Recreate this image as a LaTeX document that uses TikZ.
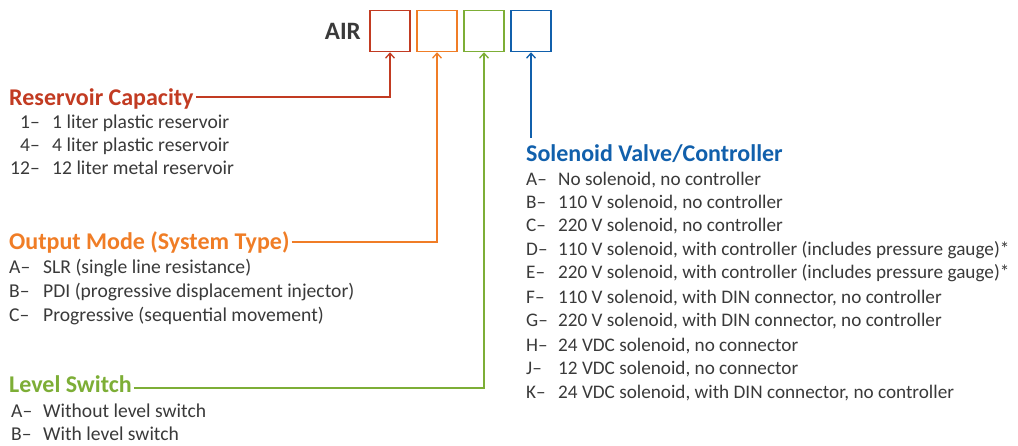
\documentclass[tikz,border=0pt]{standalone}
\usepackage{fontspec}
\setmainfont{Carlito}
\usetikzlibrary{arrows.meta}
\definecolor{cred}{HTML}{C23B22}
\definecolor{corange}{HTML}{F07D26}
\definecolor{cgreen}{HTML}{7DAE36}
\definecolor{cblue}{HTML}{1160AC}
\definecolor{ctext}{HTML}{3A3A3A}
\begin{document}
\begin{tikzpicture}[x=1pt,y=1pt,
  codebox/.style={draw,line width=1.5pt,minimum width=40pt,minimum height=41pt,inner sep=0pt},
  heading/.style={anchor=base west,inner sep=0pt,font=\fontsize{24}{24}\selectfont\bfseries},
  itemlbl/.style={anchor=base west,inner sep=0pt,text=ctext,font=\fontsize{19.6}{20}\selectfont},
  itemlblr/.style={anchor=base east,inner sep=0pt,text=ctext,font=\fontsize{19.6}{20}\selectfont},
  itemtxt/.style={anchor=base west,inner sep=0pt,text=ctext,font=\fontsize{19.6}{20}\selectfont},
  soltxt/.style={anchor=base west,inner sep=0pt,text=ctext,font=\fontsize{19.2}{20}\selectfont},
  conn/.style={line width=1.3pt,-{Straight Barb[length=5pt,width=9pt,line width=1.3pt]}}
]
\useasboundingbox (0,0) rectangle (1018,445);
\fill[white] (0,0) rectangle (1018,445);
% code line
\node[anchor=base east,inner sep=0pt,text=ctext,font=\fontsize{25}{25}\selectfont\bfseries] (air) at (361,405) {AIR};
\node[codebox,draw=cred] (b1) at (390,414) {};
\node[codebox,draw=corange] (b2) at (437,414) {};
\node[codebox,draw=cgreen] (b3) at (484,414) {};
\node[codebox,draw=cblue] (b4) at (531,414) {};
% Reservoir
\node[heading,text=cred] (h1) at (9,339) {Reservoir Capacity};
\node[itemlblr] (r1l) at (40,316) {1–};
\node[itemtxt] (r1t) at (52,316) {1 liter plastic reservoir};
\node[itemlblr] (r2l) at (40,293) {4–};
\node[itemtxt] (r2t) at (52,293) {4 liter plastic reservoir};
\node[itemlblr] (r3l) at (40,270) {12–};
\node[itemtxt] (r3t) at (52,270) {12 liter metal reservoir};
% Output mode
\node[heading,text=corange] (h2) at (9,195) {Output Mode (System Type)};
\node[itemlbl] (o1l) at (9,171) {A–};
\node[itemtxt] (o1t) at (43,171) {SLR (single line resistance)};
\node[itemlbl] (o2l) at (9,147) {B–};
\node[itemtxt] (o2t) at (43,147) {PDI (progressive displacement injector)};
\node[itemlbl] (o3l) at (9,123) {C–};
\node[itemtxt] (o3t) at (43,123) {Progressive (sequential movement)};
% Level switch
\node[heading,text=cgreen] (h3) at (9,53) {Level Switch};
\node[itemlbl] (l1l) at (11,28) {A–};
\node[itemtxt] (l1t) at (43,28) {Without level switch};
\node[itemlbl] (l2l) at (11,5) {B–};
\node[itemtxt] (l2t) at (43,5) {With level switch};
% Solenoid
\node[heading,text=cblue] (h4) at (526,283) {Solenoid Valve/Controller};
\foreach \n/\l/\t/\y in {
  s1/A/{No solenoid, no controller}/259,
  s2/B/{110 V solenoid, no controller}/236,
  s3/C/{220 V solenoid, no controller}/213,
  s4/D/{110 V solenoid, with controller (includes pressure gauge)*}/189,
  s5/E/{220 V solenoid, with controller (includes pressure gauge)*}/166,
  s6/F/{110 V solenoid, with DIN connector, no controller}/141,
  s7/G/{220 V solenoid, with DIN connector, no controller}/118,
  s8/H/{24 VDC solenoid, no connector}/94,
  s9/J/{12 VDC solenoid, no connector}/71,
  s10/K/{24 VDC solenoid, with DIN connector, no controller}/47}{
  \node[soltxt] (\n l) at (526,\y) {\l–};
  \node[soltxt] (\n t) at (558,\y) {\t};
}
% connectors
\coordinate (c4) at (531,307);
\draw[conn,cred] ([shift={(2pt,9pt)}]h1.base east) -| (b1.south);
\draw[conn,corange] ([shift={(2pt,8pt)}]h2.base east) -| (b2.south);
\draw[conn,cgreen] ([shift={(2pt,4pt)}]h3.base east) -| (b3.south);
\draw[conn,cblue] (c4) -- (b4.south);
\end{tikzpicture}
\end{document}
